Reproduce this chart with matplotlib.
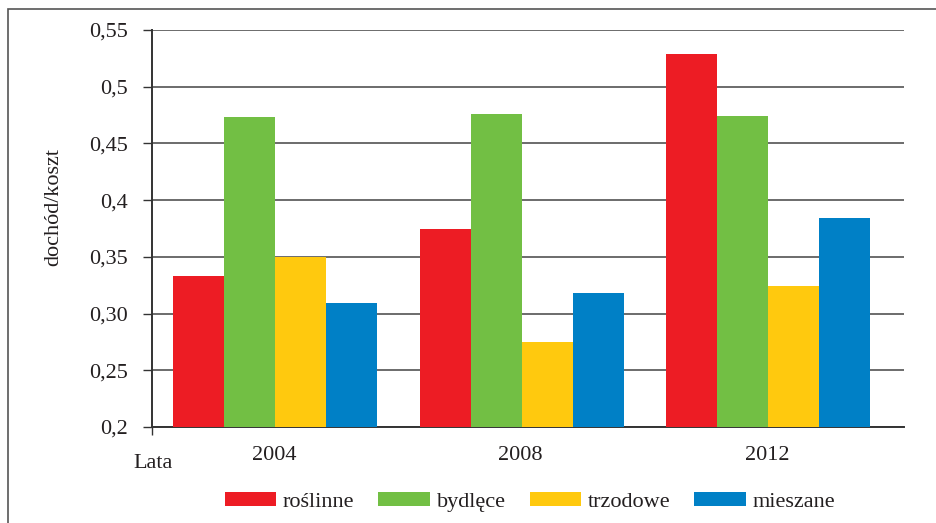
import numpy as np
import matplotlib
matplotlib.use("Agg")
import matplotlib.pyplot as plt
from matplotlib.patches import Rectangle

plt.rcParams['font.family'] = ['Liberation Serif', 'DejaVu Serif']

# data
years = ['2004', '2008', '2012']
series = ['roślinne', 'bydlęce', 'trzodowe', 'mieszane']
roslinne = [0.333, 0.375, 0.529]
bydlece = [0.473, 0.476, 0.474]
trzodowe = [0.350, 0.275, 0.324]
mieszane = [0.309, 0.318, 0.384]
yticks = [0.2, 0.25, 0.30, 0.35, 0.4, 0.45, 0.5, 0.55]
ytick_labels = ['0,2', '0,25', '0,30', '0,35', '0,4', '0,45', '0,5', '0,55']

colors = ['#ED1C24', '#72BF44', '#FFC90E', '#0080C6']
txt = '#231f20'
fs = 16

fig = plt.figure(figsize=(9.37, 5.23), dpi=100)
ax = fig.add_axes([152/937, 1-427/523, (904-152)/937, (427-30)/523])

x = np.arange(len(years))
w = 0.207
vals = [roslinne, bydlece, trzodowe, mieszane]
for i, (name, v) in enumerate(zip(series, vals)):
    ax.bar(x + (i - 1.5) * w + 0.005, np.array(v) - 0.2, w, bottom=0.2,
           color=colors[i], label=name, zorder=3)

ax.set_ylim(0.2, 0.55)
xl = -0.495
ax.set_xlim(xl, 2.556)

ax.set_yticks(yticks)
ax.set_yticklabels(ytick_labels)
ax.yaxis.grid(True, color='#6b6b6b', linewidth=1.4, zorder=0)
ax.set_axisbelow(True)

# single tick at left end of x axis, category labels as minor ticks
ax.set_xticks([xl])
ax.set_xticklabels([''])
ax.set_xticks(x, minor=True)
ax.set_xticklabels(years, minor=True)
ax.tick_params(axis='x', which='major', direction='out', length=5.5,
               width=1, color='#333333')
ax.tick_params(axis='x', which='minor', length=0, pad=14,
               labelsize=fs, labelcolor=txt)
ax.tick_params(axis='y', direction='out', length=6.5, width=1,
               color='#333333', pad=11, labelsize=fs, labelcolor=txt)

for s in ['top', 'right']:
    ax.spines[s].set_visible(False)
for s in ['left', 'bottom']:
    ax.spines[s].set_color('#333333')
    ax.spines[s].set_linewidth(1.4)

fig.text(54/937, 1-207/523, 'dochód/koszt', rotation=90, ha='center',
         va='center', fontsize=fs, color=txt)
fig.text(153/937, 1-463/523, 'Lata', ha='center', va='center',
         fontsize=fs, color=txt)

fig.legend(loc='center', bbox_to_anchor=(530/937, 1-502/523), ncol=4,
           frameon=False, fontsize=fs, handlelength=2.3, handleheight=0.58,
           handletextpad=0.32, columnspacing=1.08, labelcolor=txt)

fig.patches.append(Rectangle((8/937, -0.1), 1.2, 1 - 9/523 + 0.1,
                             transform=fig.transFigure, fill=False,
                             edgecolor='#555555', linewidth=1.2))

fig.savefig('out.png', dpi=100)
